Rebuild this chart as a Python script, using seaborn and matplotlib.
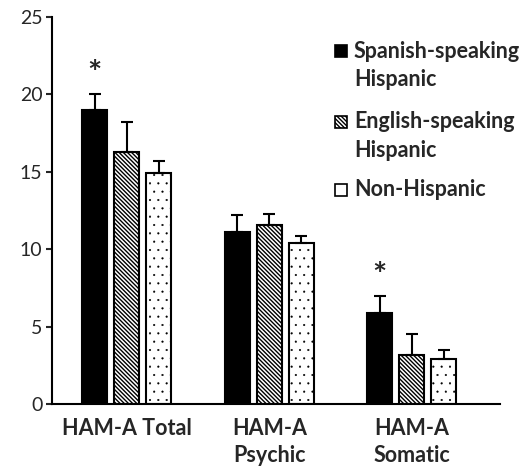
import pandas as pd
import matplotlib
matplotlib.use('Agg')
import matplotlib.pyplot as plt
import seaborn as sns
from matplotlib.patches import Rectangle

# data
measures = ['HAM-A Total', 'HAM-A\nPsychic', 'HAM-A\nSomatic']
groups = ['Spanish-speaking Hispanic', 'English-speaking Hispanic', 'Non-Hispanic']
spanish_mean = [19.0, 11.1, 5.85]
english_mean = [16.25, 11.55, 3.15]
nonhisp_mean = [14.9, 10.4, 2.9]
spanish_err = [1.0, 1.1, 1.1]
english_err = [1.95, 0.7, 1.35]
nonhisp_err = [0.8, 0.45, 0.6]
stars = [True, False, True]

sns.set_theme(style='white')
plt.rcParams['font.family'] = ['Lato', 'DejaVu Sans']
plt.rcParams['hatch.linewidth'] = 1.0

rows = []
for g, means, errs in zip(groups, [spanish_mean, english_mean, nonhisp_mean],
                          [spanish_err, english_err, nonhisp_err]):
    for m, v, e in zip(measures, means, errs):
        rows.append({'measure': m, 'group': g, 'value': v, 'err': e})
df = pd.DataFrame(rows)

fig = plt.figure(figsize=(5.28, 4.72), dpi=100)
ax = fig.add_axes([52 / 528, 1 - 404 / 472, (500 - 52) / 528, (404 - 17) / 472])

sns.barplot(data=df, x='measure', y='value', hue='group', hue_order=groups,
            palette=['black', 'white', 'white'], width=0.675, gap=0.22,
            edgecolor='black', linewidth=1.5, errorbar=None, legend=False,
            saturation=1, ax=ax)

stripe = '\\' * 8
hatches = [None, stripe, '..']
for cont, g, h in zip(ax.containers, groups, hatches):
    sub = df[df.group == g]
    xs = [p.get_x() + p.get_width() / 2 for p in cont]
    tops = [p.get_height() for p in cont]
    errs = sub['err'].values
    ax.errorbar(xs, tops, yerr=[[0] * len(errs), errs], fmt='none',
                ecolor='black', elinewidth=1.5, capsize=4.5, capthick=1.5, zorder=1)
    if h:
        for p in cont:
            p.set_hatch(h)
            if h == '..':
                p.set_hatch_linewidth(0.3)
    if g == groups[0]:
        for x, t, e, s in zip(xs, tops, errs, stars):
            if s:
                ax.text(x, t + e + 0.35, '*', ha='center', va='bottom',
                        fontsize=24, fontweight='bold')

ax.set_ylim(0, 25)
ax.set_xlim(-0.526, 2.62)
ax.set_yticks([0, 5, 10, 15, 20, 25])
ax.set_xlabel('')
ax.set_ylabel('')
ax.tick_params(axis='y', labelsize=14, length=4, width=1.5, direction='out', left=True, pad=3)
ax.tick_params(axis='x', labelsize=15.5, length=0, pad=10)
for lbl in ax.get_xticklabels():
    lbl.set_fontweight('bold')
    lbl.set_linespacing(1.35)
sns.despine(ax=ax)
for s in ['left', 'bottom']:
    ax.spines[s].set_linewidth(1.5)
    ax.spines[s].set_color('black')

# legend drawn by hand to keep the handle on the first line of each label
W, H = 528, 472
entries = [
    (51, ['Spanish-speaking', 'Hispanic'], 'black', None),
    (122, ['English-speaking', 'Hispanic'], 'white', stripe),
    (190, ['Non-Hispanic'], 'white', None),
]
for yc, lines, fc, h in entries:
    fig.patches.append(Rectangle((335 / W, 1 - (yc + 6) / H), 12 / W, 12 / H,
                                 facecolor=fc, edgecolor='black', linewidth=1.2,
                                 hatch=h, transform=fig.transFigure, figure=fig))
    for i, line in enumerate(lines):
        fig.text(354 / W, 1 - (yc + 29 * i) / H, line, ha='left', va='center',
                 fontsize=15.5, fontweight='bold')

fig.savefig('out.png', dpi=100)
